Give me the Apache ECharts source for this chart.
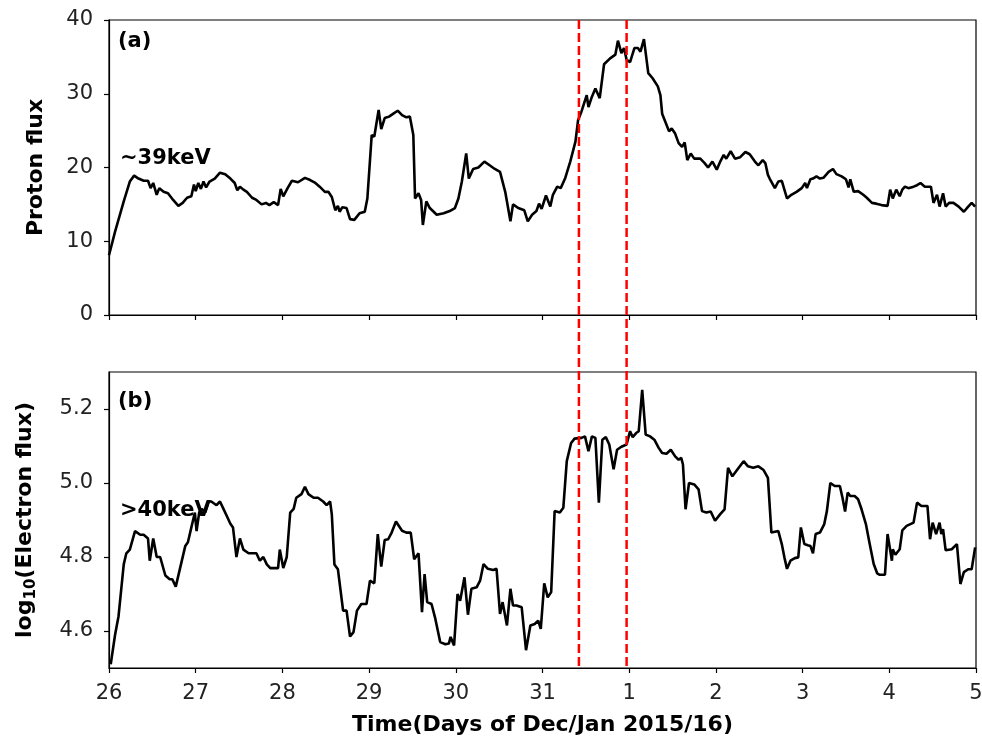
<!DOCTYPE html>
<html>
<head>
<meta charset="utf-8">
<title>Proton and electron flux, Dec/Jan 2015/16</title>
<script src="https://cdn.jsdelivr.net/npm/echarts@6/dist/echarts.min.js"></script>
<style>
  html, body { margin: 0; padding: 0; background: #fff; overflow: hidden; }
  #chart { width: 982px; height: 744px; }
</style>
</head>
<body>
<div id="chart"></div>
<script>
// Day-of-month labels for each tick (x is measured in days since 26 Dec 00:00)
const dayLabels = ['26', '27', '28', '29', '30', '31', '1', '2', '3', '4', '5'];

// Event markers (days since 26 Dec 00:00)
const eventDays = [5.42, 5.97];

// Panel (a): ~39 keV proton flux
const protonDays = [
  0.00, 0.07, 0.17, 0.24, 0.29, 0.34, 0.40, 0.45, 0.48, 0.51, 0.55, 0.58, 0.63, 0.68, 0.74, 0.80,
  0.85, 0.90, 0.95, 0.98, 1.00, 1.03, 1.06, 1.09, 1.12, 1.16, 1.22, 1.28, 1.34, 1.40, 1.45, 1.48,
  1.51, 1.55, 1.59, 1.65, 1.70, 1.76, 1.81, 1.85, 1.90, 1.95, 1.98, 2.01, 2.06, 2.11, 2.18, 2.26,
  2.32, 2.38, 2.43, 2.49, 2.53, 2.57, 2.61, 2.64, 2.66, 2.69, 2.74, 2.78, 2.83, 2.89, 2.95, 2.98,
  3.03, 3.06, 3.11, 3.14, 3.18, 3.23, 3.28, 3.33, 3.38, 3.43, 3.47, 3.51, 3.53, 3.57, 3.60, 3.62,
  3.66, 3.70, 3.78, 3.86, 3.93, 3.99, 4.03, 4.07, 4.12, 4.15, 4.20, 4.26, 4.33, 4.39, 4.45, 4.51,
  4.57, 4.63, 4.66, 4.72, 4.79, 4.83, 4.88, 4.93, 4.96, 4.99, 5.04, 5.09, 5.12, 5.17, 5.21, 5.26,
  5.32, 5.38, 5.41, 5.45, 5.51, 5.53, 5.57, 5.61, 5.66, 5.71, 5.78, 5.84, 5.87, 5.91, 5.94, 5.97,
  6.01, 6.06, 6.10, 6.13, 6.17, 6.22, 6.27, 6.33, 6.36, 6.38, 6.43, 6.46, 6.49, 6.53, 6.57, 6.61,
  6.64, 6.67, 6.71, 6.75, 6.82, 6.87, 6.91, 6.96, 7.01, 7.05, 7.09, 7.12, 7.17, 7.22, 7.28, 7.34,
  7.39, 7.45, 7.49, 7.54, 7.57, 7.60, 7.62, 7.68, 7.72, 7.76, 7.82, 7.87, 7.93, 7.99, 8.03, 8.05,
  8.09, 8.12, 8.16, 8.20, 8.24, 8.30, 8.35, 8.39, 8.45, 8.50, 8.53, 8.55, 8.59, 8.64, 8.70, 8.74,
  8.80, 8.85, 8.91, 8.98, 9.01, 9.04, 9.08, 9.12, 9.15, 9.18, 9.22, 9.28, 9.32, 9.36, 9.41, 9.48,
  9.51, 9.55, 9.58, 9.62, 9.65, 9.69, 9.74, 9.80, 9.86, 9.91, 9.95, 9.99
];
const protonFlux = [
  8.1, 11.3, 15.4, 18.1, 18.9, 18.5, 18.2, 18.2, 17.2, 17.9, 16.3, 17.2, 16.7, 16.5, 15.6, 14.8,
  15.2, 15.9, 16.1, 17.7, 16.8, 17.9, 17.1, 18.1, 17.3, 18.1, 18.5, 19.3, 19.1, 18.5, 17.9, 16.9,
  17.4, 17.0, 16.7, 15.9, 15.6, 15.0, 15.2, 14.9, 15.3, 14.9, 17.1, 16.1, 17.2, 18.2, 18.0, 18.6,
  18.3, 17.9, 17.4, 16.7, 16.7, 16.0, 14.2, 14.8, 14.0, 14.6, 14.5, 13.0, 12.9, 13.8, 14.0, 15.8,
  24.4, 24.2, 27.8, 25.2, 26.7, 26.9, 27.3, 27.7, 27.1, 26.8, 26.9, 24.4, 15.8, 16.5, 15.6, 12.2,
  15.4, 14.5, 13.6, 13.8, 14.1, 14.5, 15.8, 18.1, 21.9, 18.5, 19.8, 20.0, 20.8, 20.3, 19.8, 19.4,
  16.7, 12.7, 15.0, 14.5, 14.2, 12.7, 13.6, 14.1, 15.1, 14.4, 16.2, 14.7, 16.3, 17.4, 17.2, 18.5,
  20.8, 23.5, 26.4, 27.6, 29.8, 28.2, 29.6, 30.7, 29.4, 34.0, 34.8, 35.3, 37.2, 35.5, 36.2, 34.6,
  34.3, 36.2, 36.2, 35.7, 37.4, 32.8, 32.1, 31.0, 29.8, 27.3, 25.8, 24.9, 25.3, 24.6, 23.3, 22.8,
  23.4, 21.0, 21.9, 21.2, 21.2, 20.6, 20.0, 20.8, 19.7, 20.8, 21.7, 21.2, 22.2, 21.2, 21.4, 22.1,
  21.8, 20.8, 20.3, 21.0, 20.6, 19.0, 18.5, 17.2, 18.1, 18.2, 15.8, 16.3, 16.7, 17.2, 17.9, 17.2,
  18.4, 18.5, 18.8, 18.5, 18.6, 19.4, 19.8, 19.1, 18.8, 18.4, 17.3, 18.4, 16.7, 16.8, 16.3, 15.9,
  15.2, 15.1, 14.9, 14.8, 17.0, 15.8, 17.0, 16.1, 17.0, 17.4, 17.2, 17.4, 17.6, 17.9, 17.4, 17.4,
  15.2, 16.3, 14.7, 16.5, 14.7, 15.2, 15.2, 14.7, 14.0, 14.7, 15.2, 14.7
];

// Panel (b): >40 keV electron flux, log10
const electronDays = [
  0.02, 0.07, 0.11, 0.17, 0.20, 0.24, 0.30, 0.36, 0.40, 0.45, 0.47, 0.51, 0.55, 0.59, 0.65, 0.70,
  0.73, 0.77, 0.82, 0.88, 0.91, 0.95, 0.97, 0.99, 1.01, 1.04, 1.07, 1.11, 1.15, 1.18, 1.24, 1.28,
  1.32, 1.36, 1.40, 1.43, 1.47, 1.51, 1.55, 1.61, 1.66, 1.70, 1.74, 1.78, 1.82, 1.86, 1.91, 1.95,
  1.97, 2.01, 2.05, 2.09, 2.13, 2.16, 2.22, 2.26, 2.30, 2.36, 2.41, 2.47, 2.51, 2.55, 2.57, 2.60,
  2.64, 2.70, 2.74, 2.78, 2.82, 2.86, 2.91, 2.97, 3.01, 3.06, 3.10, 3.14, 3.18, 3.22, 3.26, 3.31,
  3.38, 3.43, 3.48, 3.52, 3.57, 3.61, 3.64, 3.67, 3.72, 3.76, 3.82, 3.88, 3.92, 3.94, 3.98, 4.02,
  4.05, 4.10, 4.14, 4.18, 4.24, 4.28, 4.32, 4.37, 4.43, 4.47, 4.51, 4.54, 4.59, 4.63, 4.66, 4.70,
  4.76, 4.81, 4.86, 4.91, 4.95, 4.98, 5.02, 5.06, 5.10, 5.14, 5.20, 5.24, 5.28, 5.33, 5.37, 5.45,
  5.49, 5.53, 5.57, 5.61, 5.65, 5.69, 5.73, 5.77, 5.82, 5.86, 5.91, 5.97, 6.01, 6.04, 6.08, 6.11,
  6.15, 6.19, 6.24, 6.29, 6.34, 6.38, 6.43, 6.48, 6.53, 6.57, 6.60, 6.62, 6.65, 6.69, 6.75, 6.80,
  6.84, 6.89, 6.94, 6.99, 7.05, 7.10, 7.14, 7.19, 7.25, 7.32, 7.37, 7.43, 7.49, 7.55, 7.60, 7.64,
  7.72, 7.76, 7.79, 7.82, 7.86, 7.91, 7.95, 7.98, 8.02, 8.06, 8.09, 8.12, 8.15, 8.20, 8.25, 8.28,
  8.32, 8.37, 8.43, 8.46, 8.49, 8.52, 8.55, 8.60, 8.64, 8.68, 8.73, 8.77, 8.82, 8.86, 8.89, 8.95,
  8.98, 9.03, 9.04, 9.07, 9.12, 9.15, 9.20, 9.28, 9.32, 9.37, 9.44, 9.47, 9.50, 9.54, 9.58, 9.60,
  9.62, 9.65, 9.72, 9.78, 9.82, 9.86, 9.91, 9.95, 9.99
];
const electronLogFlux = [
  4.51, 4.59, 4.64, 4.78, 4.81, 4.82, 4.87, 4.86, 4.86, 4.85, 4.79, 4.85, 4.80, 4.80, 4.75, 4.74,
  4.74, 4.72, 4.77, 4.83, 4.84, 4.88, 4.90, 4.92, 4.87, 4.92, 4.93, 4.92, 4.95, 4.95, 4.94, 4.95,
  4.93, 4.91, 4.89, 4.88, 4.80, 4.85, 4.82, 4.81, 4.81, 4.81, 4.79, 4.80, 4.78, 4.77, 4.77, 4.77,
  4.82, 4.77, 4.80, 4.92, 4.93, 4.96, 4.97, 4.99, 4.97, 4.96, 4.96, 4.95, 4.94, 4.95, 4.915, 4.78,
  4.767, 4.655, 4.655, 4.585, 4.597, 4.655, 4.673, 4.673, 4.736, 4.729, 4.862, 4.774, 4.846, 4.848, 4.866, 4.896,
  4.871, 4.866, 4.866, 4.794, 4.81, 4.651, 4.754, 4.678, 4.673, 4.637, 4.57, 4.564, 4.566, 4.584, 4.561, 4.70,
  4.682, 4.745, 4.644, 4.714, 4.718, 4.736, 4.781, 4.768, 4.765, 4.768, 4.646, 4.678, 4.615, 4.714, 4.669, 4.669,
  4.664, 4.548, 4.615, 4.619, 4.628, 4.606, 4.729, 4.691, 4.705, 4.924, 4.92, 4.933, 5.059, 5.108, 5.12, 5.122,
  5.126, 5.086, 5.126, 5.122, 4.947, 5.117, 5.124, 5.104, 5.037, 5.09, 5.098, 5.104, 5.14, 5.124, 5.135, 5.14,
  5.252, 5.131, 5.126, 5.117, 5.095, 5.081, 5.079, 5.09, 5.072, 5.063, 5.068, 5.05, 4.929, 5.0, 4.996, 4.983,
  4.924, 4.92, 4.923, 4.898, 4.916, 4.929, 5.041, 5.018, 5.037, 5.059, 5.045, 5.041, 5.045, 5.035, 5.014, 4.866,
  4.87, 4.835, 4.799, 4.768, 4.79, 4.797, 4.799, 4.88, 4.835, 4.832, 4.83, 4.81, 4.862, 4.866, 4.889, 4.924,
  5.0, 4.992, 4.992, 4.96, 4.923, 4.974, 4.965, 4.965, 4.956, 4.929, 4.889, 4.84, 4.781, 4.756, 4.752, 4.752,
  4.862, 4.79, 4.821, 4.806, 4.821, 4.872, 4.884, 4.893, 4.947, 4.938, 4.938, 4.848, 4.893, 4.862, 4.893, 4.862,
  4.875, 4.818, 4.821, 4.835, 4.727, 4.759, 4.767, 4.767, 4.826
];

// Tick values
const protonTicks = [0, 10, 20, 30, 40];
const electronTicks = [4.6, 4.8, 5.0, 5.2];

const FONT = 'DejaVu Sans';
const zip = (xs, ys) => xs.map((x, i) => [x, ys[i]]);

const chart = echarts.init(document.getElementById('chart'), null, { renderer: 'canvas' });

const xAxisBase = {
  type: 'value',
  min: 0,
  max: 10,
  interval: 1,
  axisLine: { show: true, lineStyle: { color: '#000', width: 1.2 } },
  axisTick: { show: true, inside: false, length: 5, lineStyle: { color: '#000', width: 1.2 } },
  splitLine: { show: false }
};

const yAxisBase = {
  type: 'value',
  nameLocation: 'middle',
  nameRotate: 90,
  axisLine: { show: true, lineStyle: { color: '#000', width: 1.2 } },
  axisTick: { show: true, inside: false, length: 5, lineStyle: { color: '#000', width: 1.2 } },
  splitLine: { show: false },
  axisLabel: { fontFamily: FONT, fontSize: 21, color: '#222', margin: 16 }
};

const lineSeries = (idx, data) => ({
  type: 'line',
  xAxisIndex: idx,
  yAxisIndex: idx,
  data: data,
  showSymbol: false,
  symbol: 'none',
  animation: false,
  lineStyle: { color: '#000', width: 2.6 },
  z: 3
});

const gridBase = {
  left: 109, right: 6, show: true, borderColor: '#000', borderWidth: 1.2,
  backgroundColor: '#fff', containLabel: false, outerBoundsMode: 'none'
};

chart.setOption({
  backgroundColor: '#fff',
  animation: false,
  grid: [
    Object.assign({}, gridBase, { top: 20, height: 295 }),
    Object.assign({}, gridBase, { top: 372, height: 296 })
  ],
  xAxis: [
    Object.assign({}, xAxisBase, { gridIndex: 0, axisLabel: { show: false } }),
    Object.assign({}, xAxisBase, {
      gridIndex: 1,
      name: 'Time(Days of Dec/Jan 2015/16)',
      nameLocation: 'middle',
      nameGap: 46,
      nameTextStyle: { fontFamily: FONT, fontSize: 22, fontWeight: 'bold', color: '#000' },
      axisLabel: {
        fontFamily: FONT, fontSize: 21, color: '#222', margin: 15,
        formatter: v => dayLabels[Math.round(v)]
      }
    })
  ],
  yAxis: [
    Object.assign({}, yAxisBase, {
      gridIndex: 0,
      min: 0,
      max: 40,
      interval: 10,
      name: 'Proton flux',
      nameGap: 62,
      nameTextStyle: { fontFamily: FONT, fontSize: 22, fontWeight: 'bold', color: '#000' },
      axisLabel: Object.assign({}, yAxisBase.axisLabel, { customValues: protonTicks }),
      axisTick: Object.assign({}, yAxisBase.axisTick, { customValues: protonTicks })
    }),
    Object.assign({}, yAxisBase, {
      gridIndex: 1,
      min: 4.5,
      max: 5.3,
      name: '{b|log}{s|10}{b|(Electron flux)}',
      nameGap: 70,
      nameTextStyle: {
        fontFamily: FONT, fontSize: 22, fontWeight: 'bold', color: '#000',
        rich: {
          b: { fontFamily: FONT, fontSize: 22, fontWeight: 'bold', color: '#000', lineHeight: 28 },
          s: { fontFamily: FONT, fontSize: 15, color: '#000', lineHeight: 28, verticalAlign: 'bottom', padding: [8, 0, 0, 0] }
        }
      },
      axisLabel: Object.assign({}, yAxisBase.axisLabel, {
        customValues: electronTicks,
        formatter: v => v.toFixed(1)
      }),
      axisTick: Object.assign({}, yAxisBase.axisTick, { customValues: electronTicks })
    })
  ],
  series: [
    lineSeries(0, zip(protonDays, protonFlux)),
    lineSeries(1, zip(electronDays, electronLogFlux))
  ]
});

// Panel labels and energy annotations, plus the event lines spanning both panels
function drawOverlays() {
  const labelStyle = { fontFamily: FONT, fontSize: 21, fontWeight: 'bold', fill: '#000', verticalAlign: 'middle' };
  const texts = [
    { text: '(a)', x: 118, y: 42 },
    { text: '~39keV', x: 120, y: 159 },
    { text: '(b)', x: 118, y: 402 },
    { text: '>40keV', x: 120, y: 511 }
  ].map(t => ({ type: 'text', x: t.x, y: t.y, z: 10, style: Object.assign({ text: t.text }, labelStyle) }));

  const lines = eventDays.map(d => {
    const top = chart.convertToPixel({ xAxisIndex: 0, yAxisIndex: 0 }, [d, 40]);
    const bottom = chart.convertToPixel({ xAxisIndex: 1, yAxisIndex: 1 }, [d, 4.5]);
    return {
      type: 'line',
      z: 20,
      shape: { x1: top[0], y1: top[1], x2: bottom[0], y2: bottom[1] },
      style: { stroke: '#ff0000', lineWidth: 2.5, lineDash: [9, 4] }
    };
  });

  chart.setOption({ graphic: texts.concat(lines) });
}
drawOverlays();
</script>
</body>
</html>
